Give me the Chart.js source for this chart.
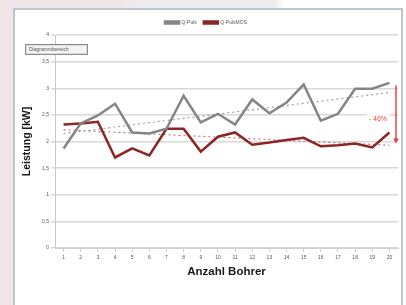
<!DOCTYPE html>
<html>
<head>
<meta charset="utf-8">
<script src="https://cdn.jsdelivr.net/npm/chart.js@4/dist/chart.umd.min.js"></script>
<style>
  html, body { margin: 0; padding: 0; }
  body {
    width: 406px; height: 305px; overflow: hidden; position: relative;
    background: linear-gradient(90deg, #f1e6e7 0px, #f1e6e7 120px, #ececec 140px, #ececec 275px, #ffffff 285px);
    font-family: "Liberation Sans", Arial, sans-serif;
  }
  #frame {
    position: absolute; left: 13px; top: 8px; width: 386px; height: 300px;
    background: #ffffff; border: 2px solid #bcc6cc;
  }
  #chart { position: absolute; left: 0; top: 0; }
  #tip {
    position: absolute; left: 25px; top: 44px; width: 58px; height: 9px;
    border: 1px solid #8c8c8c; background: #f3f3f3;
    box-shadow: inset 0 0 0 1px #dcdcdc;
    font-size: 5px; line-height: 9px; color: #555; padding-left: 3px;
  }
</style>
</head>
<body>
<div id="frame"></div>
<canvas id="chart" width="406" height="305"></canvas>
<div id="tip">Diagrammbereich</div>
<script>
/* ===================== DATA ===================== */

const bohrer = ["1", "2", "3", "4", "5", "6", "7", "8", "9", "10",
                "11", "12", "13", "14", "15", "16", "17", "18", "19", "20"];

const qPuls    = [1.87, 2.34, 2.49, 2.71, 2.17, 2.15, 2.24, 2.86, 2.36, 2.52,
                  2.32, 2.79, 2.53, 2.73, 3.07, 2.39, 2.52, 2.99, 2.99, 3.10];
const qPulsMos = [2.32, 2.34, 2.37, 1.70, 1.87, 1.74, 2.24, 2.24, 1.81, 2.09,
                  2.17, 1.94, 1.98, 2.03, 2.07, 1.91, 1.93, 1.96, 1.89, 2.17];

// trend lines, read at first and last drill
const trendPuls = [2.15, null, null, null, null, null, null, null, null, null,
                   null, null, null, null, null, null, null, null, null, 2.92];
const trendMos  = [2.22, null, null, null, null, null, null, null, null, null,
                   null, null, null, null, null, null, null, null, null, 1.93];

const yTicks = [0, 0.5, 1, 1.5, 2, 2.5, 3, 3.5, 4];

// red arrow annotation
const arrowFrom = 3.05;
const arrowTo = 1.98;
const arrowLabel = "- 46%";
const arrowLabelAt = 2.43;

/* ===================== PLUGINS ===================== */

const arrowPlugin = {
    id: "arrow",
    afterDatasetsDraw(chart) {
        const { ctx, chartArea, scales } = chart;
        const x = chartArea.right - 2;
        const y1 = scales.y.getPixelForValue(arrowFrom);
        const y2 = scales.y.getPixelForValue(arrowTo);
        ctx.save();
        ctx.strokeStyle = "#e4463e";
        ctx.fillStyle = "#e4463e";
        ctx.lineWidth = 1.5;
        ctx.beginPath();
        ctx.moveTo(x, y1);
        ctx.lineTo(x, y2 - 3);
        ctx.stroke();
        ctx.beginPath();
        ctx.moveTo(x - 3, y2 - 4);
        ctx.lineTo(x + 3, y2 - 4);
        ctx.lineTo(x, y2 + 1);
        ctx.closePath();
        ctx.fill();

        const ty = scales.y.getPixelForValue(arrowLabelAt);
        ctx.font = "7px 'Liberation Sans', Arial, sans-serif";
        ctx.textAlign = "right";
        ctx.textBaseline = "middle";
        const w = ctx.measureText(arrowLabel).width;
        ctx.fillStyle = "rgba(255,255,255,0.85)";
        ctx.fillRect(x - 11 - w, ty - 5, w + 4, 10);
        ctx.fillStyle = "#e4463e";
        ctx.fillText(arrowLabel, x - 9, ty);
        ctx.restore();
    },
};

/* ===================== CHART ===================== */

const ctx = document.getElementById("chart").getContext("2d");

new Chart(ctx, {
    type: "line",
    data: {
        labels: bohrer,
        datasets: [
            {
                label: "Q-Puls",
                data: qPuls,
                borderColor: "#858585",
                backgroundColor: "#858585",
                borderWidth: 2.5,
                pointRadius: 0,
                tension: 0,
            },
            {
                label: "Q-PulsMOS",
                data: qPulsMos,
                borderColor: "#8a2626",
                backgroundColor: "#8a2626",
                borderWidth: 2.5,
                pointRadius: 0,
                tension: 0,
            },
            {
                label: "trend1",
                data: trendPuls,
                borderColor: "#a3a3a3",
                borderWidth: 1.2,
                borderDash: [2, 3],
                pointRadius: 0,
                spanGaps: true,
            },
            {
                label: "trend2",
                data: trendMos,
                borderColor: "#c07878",
                borderWidth: 1.2,
                borderDash: [2, 3],
                pointRadius: 0,
                spanGaps: true,
            },
        ],
    },
    options: {
        responsive: false,
        animation: false,
        devicePixelRatio: 1,
        layout: { padding: { left: 14, right: 8, top: 13, bottom: 17 } },
        plugins: {
            legend: {
                position: "top",
                labels: {
                    filter: item => !item.text.startsWith("trend"),
                    boxWidth: 14,
                    boxHeight: 2,
                    padding: 7,
                    color: "#555",
                    font: { size: 5, family: "'Liberation Sans', Arial, sans-serif" },
                },
            },
            tooltip: { enabled: false },
        },
        scales: {
            x: {
                offset: true,
                afterFit: s => { s.height = 40; },
                grid: { display: true, drawOnChartArea: false, tickLength: 4, color: "#d0d0d0" },
                border: { color: "#d0d0d0" },
                ticks: {
                    padding: 3,
                    color: "#555",
                    maxRotation: 0,
                    autoSkip: false,
                    font: { size: 5, family: "'Liberation Sans', Arial, sans-serif" },
                },
                title: {
                    display: true,
                    text: "Anzahl Bohrer",
                    color: "#1a1a1a",
                    padding: { top: 0, bottom: 9 },
                    font: { size: 11.5, weight: "bold", family: "'Liberation Sans', Arial, sans-serif" },
                },
            },
            y: {
                min: 0,
                max: 4,
                afterFit: s => { s.width = 41; },
                afterBuildTicks: s => { s.ticks = yTicks.map(v => ({ value: v })); },
                grid: { color: "#d8d8d8", lineWidth: 1.5, tickLength: 4 },
                border: { color: "#c8c8c8" },
                ticks: {
                    padding: 2,
                    color: "#555",
                    callback: v => String(v).replace(".", ","),
                    font: { size: 5, family: "'Liberation Sans', Arial, sans-serif" },
                },
                title: {
                    display: true,
                    text: "Leistung [kW]",
                    color: "#1a1a1a",
                    padding: { top: 7, bottom: 0 },
                    font: { size: 10.5, weight: "bold", family: "'Liberation Sans', Arial, sans-serif" },
                },
            },
        },
    },
    plugins: [arrowPlugin],
});
</script>
</body>
</html>
